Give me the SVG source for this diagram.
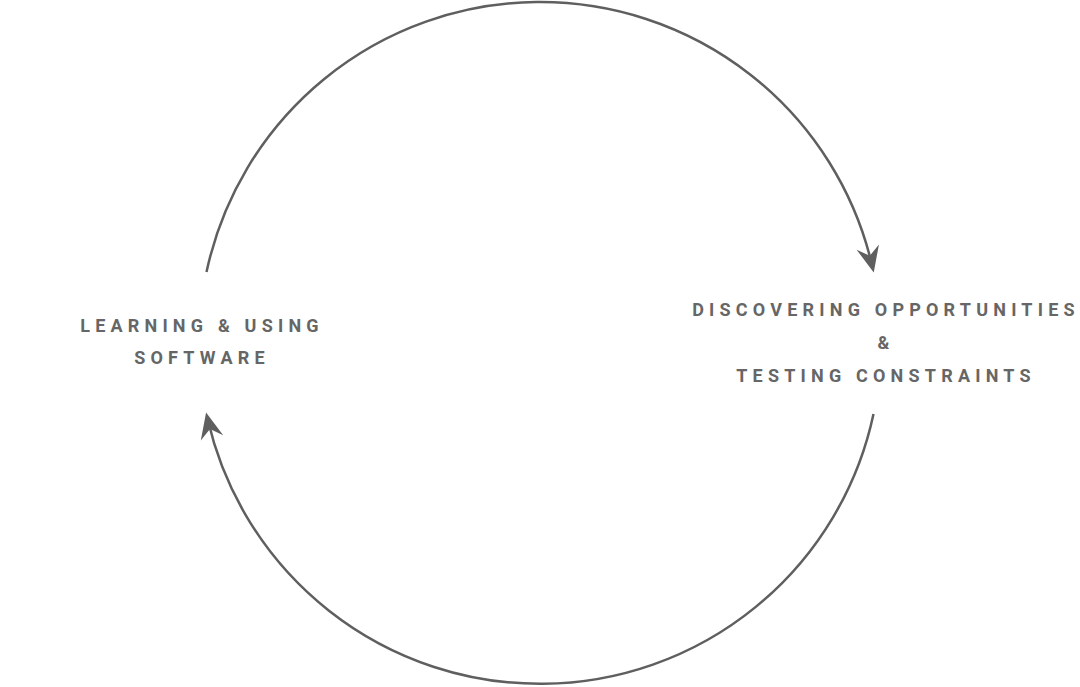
<svg xmlns="http://www.w3.org/2000/svg" width="1080" height="687" viewBox="0 0 1080 687">
<style>
.lbl{font-family:Roboto,"Liberation Sans",sans-serif;font-weight:700;font-size:18px;letter-spacing:5.2px;fill:#666;text-anchor:middle}
.arc{fill:none;stroke:#5f5f5f;stroke-width:2.5}
</style>
<defs>
<marker id="ah" markerUnits="userSpaceOnUse" orient="auto" markerWidth="40" markerHeight="40" refX="0" refY="0" viewBox="-20 -20 40 40" overflow="visible">
<path d="M8,0 L-18,-11.5 L-9,0 L-18,11.5 Z" fill="#5f5f5f"/>
</marker>
</defs>
<rect width="1080" height="687" fill="#fff"/>
<g id="connectors">
<path class="arc" d="M206.5,272.1 A341,341 0 0 1 871.9,264.6" marker-end="url(#ah)"/>
<path class="arc" d="M873.5,413.9 A341,341 0 0 1 207.9,420.3" marker-end="url(#ah)"/>
</g>
<g id="node-learning">
<text class="lbl" x="202" y="332">LEARNING &amp; USING</text>
<text class="lbl" x="202" y="364">SOFTWARE</text>
</g>
<g id="node-discovering">
<text class="lbl" x="886" y="316">DISCOVERING OPPORTUNITIES</text>
<text class="lbl" x="886" y="349">&amp;</text>
<text class="lbl" x="886" y="382">TESTING CONSTRAINTS</text>
</g>
</svg>
